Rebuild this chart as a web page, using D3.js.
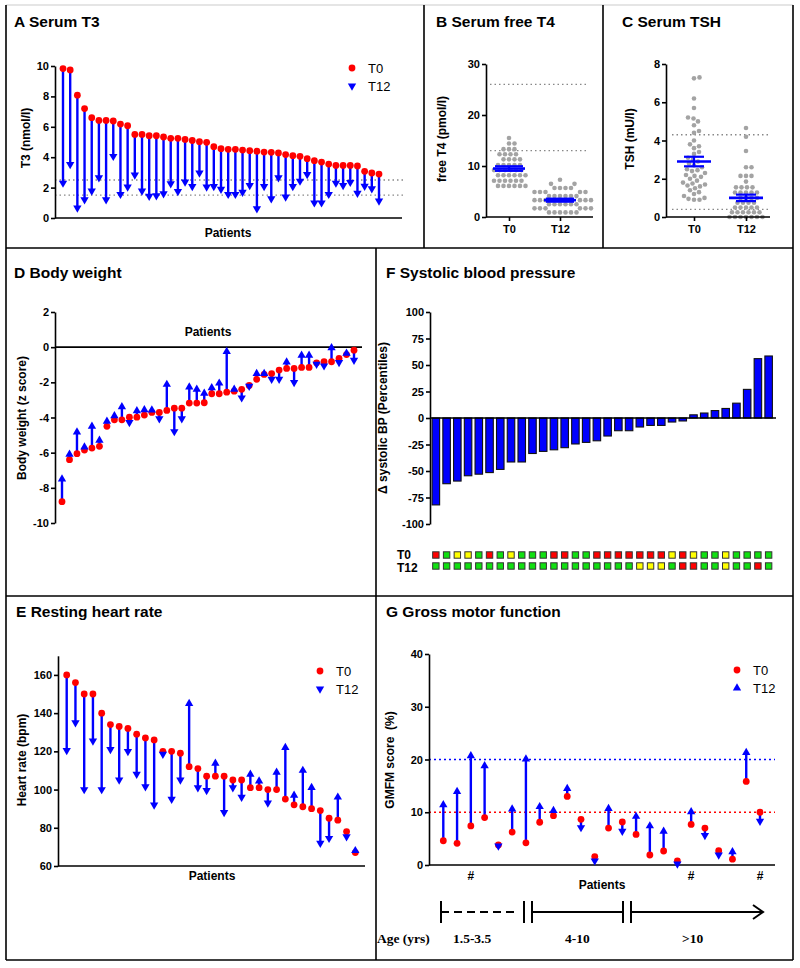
<!DOCTYPE html>
<html lang="en">
<head>
<meta charset="UTF-8">
<title>Thyroid treatment panels</title>
<script src="https://d3js.org/d3.v7.min.js"></script>
<style>
  body { margin: 0; background: #fff; }
  svg { font-family: "Liberation Sans", Arial, sans-serif; }
  .title { font-size: 15.5px; font-weight: bold; }
  .axis .tick text { font-family: "Liberation Sans", Arial, sans-serif; font-size: 11px; font-weight: bold; fill: #000; }
  .axis path, .axis line { stroke: #000; stroke-width: 1.6; }
  .lab { font-size: 12px; font-weight: bold; }
  .leg { font-size: 13px; font-family: "Liberation Sans Narrow", "Liberation Sans", Arial, sans-serif; }
  .age { font-family: "Liberation Serif", "Times New Roman", serif; font-size: 13.5px; font-weight: bold; }
</style>
</head>
<body>
<svg id="chart" width="800" height="968"></svg>
<script>
// A serum T3 (nmol/l)
const t3T0 = [9.83, 9.74, 8.08, 7.2, 6.6, 6.42, 6.42, 6.38, 6.18, 6.07, 5.5, 5.5, 5.41, 5.41, 5.33,
  5.24, 5.24, 5.17, 5.1, 5.02, 4.98, 4.69, 4.56, 4.52, 4.52, 4.47, 4.43, 4.39, 4.34, 4.32,
  4.28, 4.17, 4.1, 4.06, 3.9, 3.77, 3.68, 3.55, 3.46, 3.46, 3.46, 3.42, 3.07, 2.96, 2.89];
const t3T12 = [2.3, 3.53, 0.66, 1.2, 1.78, 2.65, 1.2, 4.06, 1.56, 2.04, 2.83, 1.78, 1.43, 1.47, 1.6,
  2.26, 1.75, 2.37, 2.08, 2.96, 2.04, 2.08, 1.89, 1.56, 1.56, 1.7, 2.15, 0.61, 2.08, 1.27,
  2.65, 1.38, 2.08, 2.43, 2.87, 1.0, 1.0, 1.56, 2.3, 2.15, 2.35, 1.64, 2.1, 1.93, 1.12];
const t3Ref = [2.5, 1.5];

// B serum free T4 (pmol/l)
const ft4T0 = [15.5, 14.4, 14.4, 13.3, 13.3, 13.3, 12.3, 12.3, 12.3, 12.3, 11.3, 11.3, 11.3, 11.3,
  10.2, 10.2, 10.2, 10.2, 10.2, 9.2, 9.2, 9.2, 9.2, 9.2, 9.2, 8.2, 8.2, 8.2, 8.2, 8.2, 8.2,
  7.1, 7.1, 7.1, 7.1, 7.1, 7.1, 6.1, 6.1, 6.1, 6.1, 6.1, 6.1];
const ft4T12 = [7.3, 6.5, 6.5, 5.7, 5.7, 5.7, 5.7, 4.9, 4.9, 4.9, 4.9, 4.9, 4.1, 4.1, 4.1, 4.1, 4.1, 4.1,
  3.3, 3.3, 3.3, 3.3, 3.3, 3.3, 2.5, 2.5, 2.5, 2.5, 2.5, 2.5, 1.7, 1.7, 1.7, 1.7, 1.7, 1.7,
  0.9, 0.9, 0.9, 0.9, 0.9, 0.9];
const ft4Mean = [9.5, 3.3];
const ft4Sem = [0.45, 0.3];
const ft4Ref = [26, 13];

// C serum TSH (mU/l)
const tshT0 = [7.3, 7.25, 6.2, 5.7, 5.2, 5.15, 5.0, 4.8, 4.5, 4.4, 4.0, 3.8, 3.7, 3.6, 3.4,
  3.3, 3.1, 3.0, 2.9, 2.8, 2.7, 2.6, 2.5, 2.45, 2.4, 2.3, 2.2, 2.15, 2.1, 2.0,
  1.9, 1.8, 1.75, 1.7, 1.65, 1.6, 1.5, 1.4, 1.3, 1.2, 1.1, 1.0, 0.95, 0.9, 0.9];
const tshT12 = [4.65, 4.2, 3.45, 2.6, 2.6, 2.15, 2.15, 2.15, 1.85, 1.55, 1.55, 1.55, 1.55,
  1.28, 1.28, 1.28, 1.28, 1.28, 1.0, 1.0, 1.0, 1.0, 0.75, 0.75, 0.75, 0.75,
  0.5, 0.5, 0.5, 0.5, 0.5, 0.25, 0.25, 0.25, 0.25, 0.25, 0.25, 0, 0, 0, 0, 0, 0, 0];
const tshMean = [2.9, 1.0];
const tshSem = [0.25, 0.17];
const tshRef = [4.3, 0.4];
const groups = ["T0", "T12"];

// D body weight (z score)
const bwT0 = [-8.79, -6.4, -6.06, -5.85, -5.74, -5.64, -4.5, -4.13, -4.13, -3.98, -3.98, -3.86, -3.71, -3.71, -3.6,
  -3.47, -3.47, -3.18, -3.18, -3.16, -2.65, -2.65, -2.56, -2.5, -2.4, -2.18, -1.83, -1.55, -1.5, -1.3,
  -1.21, -1.21, -1.15, -1.15, -0.89, -0.83, -0.83, -0.64, -0.42, -0.17];
const bwT12 = [-7.5, -6.1, -4.83, -5.68, -4.5, -5.3, -4.22, -3.9, -3.39, -4.28, -3.62, -3.56, -3.58, -4.07, -2.12,
  -4.8, -4.07, -2.27, -2.4, -2.63, -2.31, -2.05, -0.25, -2.4, -2.88, -2.22, -1.5, -1.5, -1.82, -1.82,
  -0.85, -2.0, -0.47, -0.47, -0.97, -1.06, -0.04, -0.87, -0.35, -0.74];

// E resting heart rate (bpm)
const hrT0 = [160, 156, 150, 150, 140, 134, 133, 132, 129, 127, 126, 120, 120, 119, 112, 111, 107,
  107, 107, 105, 105, 101, 101, 100, 100, 95, 92, 91, 90, 89, 85, 84, 78, 67];
const hrT12 = [120.5, 135, 100, 125.5, 100, 121, 105, 120, 108, 101.5, 92, 118.5, 95, 105, 145, 101, 99.5,
  113.7, 88, 101, 96, 108, 104.4, 93, 109, 122, 97, 110, 101, 72, 74.5, 96, 75.3, 68];

// F systolic blood pressure change (percentiles) and category at T0 / T12
const bpDelta = [-82, -62, -59.5, -54.5, -53, -51.5, -48.5, -41.5, -41.5, -33.5, -31.5, -30, -28, -24.5, -23, -21.5,
  -17, -12, -12, -8.5, -7, -7, -3.8, -2.8, 3, 4.7, 7, 9, 14, 27, 56, 58.5];
const bpCatT0 = ["r", "g", "y", "y", "g", "r", "g", "y", "g", "g", "g", "r", "r", "g", "g", "r",
  "r", "r", "r", "r", "r", "r", "y", "r", "y", "g", "g", "y", "g", "g", "g", "g"];
const bpCatT12 = ["g", "g", "g", "g", "g", "g", "g", "g", "g", "g", "g", "g", "g", "g", "g", "g",
  "g", "g", "g", "y", "y", "y", "g", "r", "r", "g", "g", "y", "g", "g", "r", "g"];

// G gross motor function (GMFM %)
const gmT0 = [4.6, 4.1, 7.4, 9.0, 3.8, 6.25, 4.2, 8.1, 9.35, 13.0, 8.65, 1.6, 7.0, 8.15, 5.8, 1.9, 2.65, 0.76,
  7.7, 7.0, 2.7, 1.1, 15.85, 10.0];
const gmT12 = [11.4, 13.9, 20.7, 18.8, 3.6, 10.6, 20.1, 11.05, 10.3, 14.5, 7.1, 0.8, 10.7, 6.4, 9.2, 7.4, 6.4, 0.2,
  10.1, 5.6, 1.9, 2.5, 21.3, 8.3];
const gmHash = [2, 18, 23];
const gmRef = [20, 10];
const ageGroups = ["1.5-3.5", "4-10", ">10"];

const BLUE = "#0000ff", RED = "#ff0000", GREY = "#a3a3a3";
const catColor = { r: "#ff0000", g: "#11e011", y: "#ffff00" };

const svg = d3.select("#chart");
svg.append("rect").attr("width", 800).attr("height", 968).attr("fill", "#fff");

// panel frame
const frame = svg.append("g").attr("stroke", "#000").attr("stroke-width", 1.6);
[[6, 5, 793, 5], [6, 5, 6, 960], [793, 5, 793, 960], [6, 960, 793, 960], [6, 248, 793, 248], [6, 596, 793, 596],
 [424, 5, 424, 248], [603, 5, 603, 248], [376, 248, 376, 960]].forEach(l =>
  frame.append("line").attr("x1", l[0]).attr("y1", l[1]).attr("x2", l[2]).attr("y2", l[3]));
frame.select("line").attr("stroke", "#ddd");

function title(x, y, txt) {
  svg.append("text").attr("class", "title").attr("x", x).attr("y", y).text(txt);
}
function yAxis(scale, x, ticks) {
  svg.append("g").attr("class", "axis").attr("transform", `translate(${x},0)`)
    .call(d3.axisLeft(scale).tickValues(ticks).tickSize(4).tickSizeOuter(0).tickPadding(2).tickFormat(d => String(d)));
}
function hLine(x1, x2, y, stroke, width, dash) {
  const l = svg.append("line").attr("x1", x1).attr("x2", x2).attr("y1", y).attr("y2", y)
    .attr("stroke", stroke).attr("stroke-width", width);
  if (dash) l.attr("stroke-dasharray", dash);
  return l;
}
function yLabel(x, y, txt) {
  svg.append("text").attr("class", "lab").attr("text-anchor", "middle")
    .attr("transform", `translate(${x},${y}) rotate(-90)`).text(txt);
}
function text(x, y, txt, cls, anchor) {
  return svg.append("text").attr("class", cls || "lab").attr("x", x).attr("y", y)
    .attr("text-anchor", anchor || "start").text(txt);
}
const tri = d3.symbol().type(d3.symbolTriangle).size(30);

function arrows(t0, t12, x, y) {
  const g = svg.append("g");
  g.selectAll("line").data(t0).join("line")
    .attr("x1", (d, i) => x(i)).attr("x2", (d, i) => x(i))
    .attr("y1", d => y(d)).attr("y2", (d, i) => y(t12[i]))
    .attr("stroke", BLUE).attr("stroke-width", 2.4);
  g.selectAll("circle").data(t0).join("circle")
    .attr("cx", (d, i) => x(i)).attr("cy", d => y(d)).attr("r", 3.4).attr("fill", RED);
  g.selectAll("path").data(t12).join("path")
    .attr("d", tri)
    .attr("transform", (d, i) => `translate(${x(i)},${y(d)}) rotate(${d < t0[i] ? 180 : 0})`)
    .attr("fill", BLUE);
}
function legend(x, y, upTri) {
  svg.append("circle").attr("cx", x).attr("cy", y).attr("r", 3.4).attr("fill", RED);
  svg.append("path").attr("d", tri).attr("fill", BLUE)
    .attr("transform", `translate(${x},${y + 18}) rotate(${upTri ? 0 : 180})`);
  text(x + 16, y + 5, "T0", "leg");
  text(x + 16, y + 23, "T12", "leg");
}

// ---------- A Serum T3
title(14, 27, "A Serum T3");
const xA = d3.scalePoint().domain(d3.range(t3T0.length)).range([63, 379]);
const yA = d3.scaleLinear().domain([0, 10]).range([218, 66]);
t3Ref.forEach(v => hLine(55, 404, yA(v), "#888", 1.3, "1.5,3"));
yAxis(yA, 55, [0, 2, 4, 6, 8, 10]);
hLine(55, 402, yA(0), "#000", 1.6);
arrows(t3T0, t3T12, xA, yA);
legend(352, 68, false);
yLabel(30, 138, "T3 (nmol/l)");
text(228, 237, "Patients", "lab", "middle");

// ---------- B / C beeswarm panels
function swarm(vals, y, cx, r) {
  const pts = [];
  vals.slice().sort((a, b) => a - b).forEach(v => {
    const py = y(v);
    let px = null;
    for (let k = 0; k < 80 && px === null; k++) {
      const offs = k === 0 ? [0] : [k * 0.5, -k * 0.5];
      for (const o of offs) {
        if (pts.every(p => (p.x - cx - o) ** 2 + (p.y - py) ** 2 >= (2 * r + 0.6) ** 2)) { px = cx + o; break; }
      }
    }
    pts.push({ x: px, y: py });
  });
  return pts;
}
function scatterPanel(cfg) {
  title(cfg.tx, 27, cfg.title);
  const y = d3.scaleLinear().domain([0, cfg.max]).range([217, 64]);
  const x = d3.scalePoint().domain(groups).range(cfg.xs);
  cfg.ref.forEach(v => hLine(cfg.refX[0], cfg.refX[1], y(v), "#888", 1.3, "1.5,3"));
  [cfg.t0, cfg.t12].forEach((vals, gi) => {
    svg.append("g").selectAll("circle").data(swarm(vals, y, x(groups[gi]), 2.3)).join("circle")
      .attr("cx", d => d.x).attr("cy", d => d.y).attr("r", 2.3).attr("fill", GREY);
  });
  groups.forEach((gname, gi) => {
    const cx = x(gname), m = cfg.mean[gi], s = cfg.sem[gi];
    hLine(cx - cfg.mw, cx + cfg.mw, y(m), BLUE, 2.6);
    hLine(cx - cfg.cw, cx + cfg.cw, y(m + s), BLUE, 2.2);
    hLine(cx - cfg.cw, cx + cfg.cw, y(m - s), BLUE, 2.2);
    svg.append("line").attr("x1", cx).attr("x2", cx).attr("y1", y(m - s)).attr("y2", y(m + s))
      .attr("stroke", BLUE).attr("stroke-width", 2.2);
  });
  yAxis(y, cfg.ax, cfg.ticks);
  svg.append("g").attr("class", "axis").attr("transform", "translate(0,217)")
    .call(d3.axisBottom(x).tickSize(4).tickPadding(4).tickSizeOuter(0))
    .select(".domain").attr("d", `M${cfg.ax},0H${cfg.axEnd}`);
  yLabel(cfg.lx, 139, cfg.label);
}
scatterPanel({ title: "B Serum free T4", tx: 436, max: 30, xs: [509, 560], ax: 486, axEnd: 593,
  ticks: [0, 10, 20, 30], ref: ft4Ref, refX: [490, 588], t0: ft4T0, t12: ft4T12,
  mean: ft4Mean, sem: ft4Sem, mw: 16, cw: 14, lx: 446, label: "free T4 (pmol/l)" });
scatterPanel({ title: "C Serum TSH", tx: 622, max: 8, xs: [694, 746], ax: 666, axEnd: 770,
  ticks: [0, 2, 4, 6, 8], ref: tshRef, refX: [672, 770], t0: tshT0, t12: tshT12,
  mean: tshMean, sem: tshSem, mw: 17, cw: 10, lx: 634, label: "TSH (mU/l)" });

// ---------- D Body weight
title(14, 278, "D Body weight");
const xD = d3.scalePoint().domain(d3.range(bwT0.length)).range([62, 354]);
const yD = d3.scaleLinear().domain([-10, 2]).range([523, 312]);
yAxis(yD, 55, [-10, -8, -6, -4, -2, 0, 2]);
hLine(55, 362, yD(0), "#000", 1.6);
arrows(bwT0, bwT12, xD, yD);
yLabel(26, 418, "Body weight (z score)");
text(208, 336, "Patients", "lab", "middle");

// ---------- F Systolic blood pressure
title(386, 278, "F Systolic blood pressure");
const xF = d3.scaleBand().domain(d3.range(bpDelta.length)).range([430.5, 774]).paddingInner(0.3).paddingOuter(0.15);
const yF = d3.scaleLinear().domain([-100, 100]).range([524, 312]);
svg.append("g").selectAll("rect").data(bpDelta).join("rect")
  .attr("x", (d, i) => xF(i)).attr("width", xF.bandwidth())
  .attr("y", d => yF(Math.max(0, d))).attr("height", d => Math.abs(yF(d) - yF(0)))
  .attr("fill", BLUE).attr("stroke", "#111").attr("stroke-width", 1.1);
yAxis(yF, 430, [-100, -75, -50, -25, 0, 25, 50, 75, 100]);
hLine(430, 776, yF(0), "#000", 1.6);
yLabel(387, 418, "\u0394 systolic BP (Percentiles)");
[[bpCatT0, 555], [bpCatT12, 566]].forEach(([cats, cy]) => {
  svg.append("g").selectAll("rect").data(cats).join("rect")
    .attr("x", (d, i) => xF(i) + xF.bandwidth() / 2 - 3.2).attr("y", cy - 3.2)
    .attr("width", 6.4).attr("height", 6.4)
    .attr("fill", d => catColor[d]).attr("stroke", "#333").attr("stroke-width", 1);
});
text(397, 559, "T0", "lab").style("font-size", "12px");
text(397, 571.5, "T12", "lab").style("font-size", "12px");

// ---------- E Resting heart rate
title(16, 617, "E Resting heart rate");
const xE = d3.scalePoint().domain(d3.range(hrT0.length)).range([66.7, 355.3]);
const yE = d3.scaleLinear().domain([60, 170]).range([866, 655.8]);
yAxis(yE, 58, [60, 80, 100, 120, 140, 160]);
hLine(58, 365, yE(60), "#000", 1.6);
arrows(hrT0, hrT12, xE, yE);
legend(320, 671, false);
yLabel(26, 760, "Heart rate (bpm)");
text(212, 880, "Patients", "lab", "middle");

// ---------- G Gross motor function
title(386, 617, "G Gross motor function");
const xG = d3.scalePoint().domain(d3.range(gmT0.length)).range([443.3, 760]);
const yG = d3.scaleLinear().domain([0, 40]).range([865, 654]);
hLine(429, 775, yG(gmRef[0]), BLUE, 1.5, "2,3");
hLine(429, 775, yG(gmRef[1]), RED, 1.5, "2,3");
yAxis(yG, 429, [0, 10, 20, 30, 40]);
hLine(429, 775, yG(0), "#000", 1.6);
arrows(gmT0, gmT12, xG, yG);
legend(737, 670, true);
yLabel(394, 760, "GMFM score\u00a0 (%)");
gmHash.forEach(i => text(xG(i), 880, "#", "lab", "middle"));
text(602, 889, "Patients", "lab", "middle");

// age timeline
const tl = svg.append("g").attr("stroke", "#000").attr("stroke-width", 2).attr("fill", "none");
const ty = 912;
tl.append("line").attr("x1", 441).attr("x2", 441).attr("y1", 901).attr("y2", 923);
tl.append("line").attr("x1", 441).attr("x2", 517).attr("y1", ty).attr("y2", ty).attr("stroke-dasharray", "8,5");
[524, 532, 623, 631].forEach(x => tl.append("line").attr("x1", x).attr("x2", x).attr("y1", 901).attr("y2", 923));
tl.append("line").attr("x1", 532).attr("x2", 623).attr("y1", ty).attr("y2", ty);
tl.append("line").attr("x1", 631).attr("x2", 763).attr("y1", ty).attr("y2", ty);
tl.append("path").attr("d", `M753,905L763,${ty}L753,919`);
text(377, 943, "Age (yrs)", "age");
[453, 565, 682].forEach((x, i) => text(x, 943, ageGroups[i], "age"));
</script>
</body>
</html>
